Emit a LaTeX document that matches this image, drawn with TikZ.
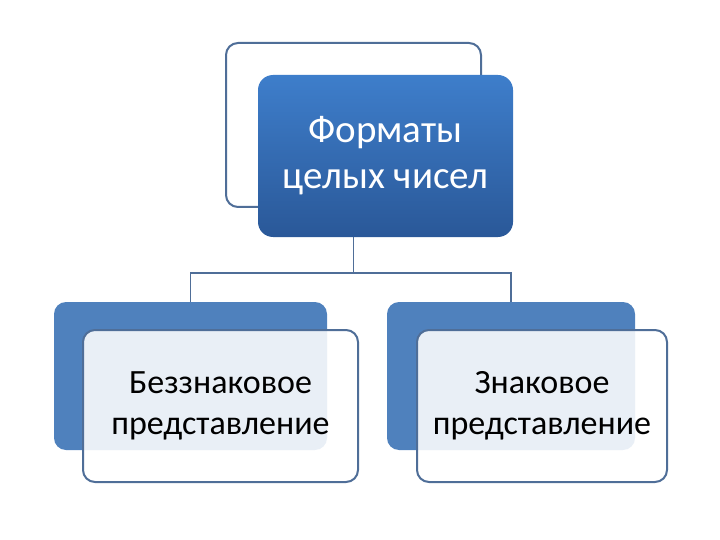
\documentclass[tikz,border=0pt]{standalone}
\usepackage{fontspec}
\setmainfont{Carlito}
\usepackage{xcolor}
\usepackage{tikz}
\usetikzlibrary{calc}

\definecolor{frameblue}{HTML}{4F6E98}
\definecolor{boxblue}{HTML}{4F81BD}
\definecolor{topblue}{HTML}{3E7ECB}
\definecolor{lowblue}{HTML}{2A5898}

\begin{document}
\begin{tikzpicture}[x=1pt, y=-1pt,
  box/.style={rounded corners=12pt, inner sep=0pt, outer sep=0pt, align=center},
  backw/.style={box, draw=frameblue, line width=2pt, fill=white},
  backb/.style={box, fill=boxblue},
  head/.style={box, rounded corners=15pt, top color=topblue, bottom color=lowblue,
               text=white, font=\fontsize{39}{46}\selectfont},
  leaf/.style={box, draw=frameblue, line width=2pt, fill=white, fill opacity=0.88,
               text opacity=1, font=\fontsize{34}{41}\selectfont},
  link/.style={draw=frameblue, line width=1.6pt}
]
\useasboundingbox (0,0) rectangle (720,540);

% --- back boxes ---------------------------------------------------------
\node[backw, minimum width=255, minimum height=164] (tback) at (353.5,125) {};
\node[backb, minimum width=273, minimum height=148] (lback) at (190.5,376) {};
\node[backb, minimum width=248, minimum height=148] (rback) at (511,376) {};

% --- connectors ---------------------------------------------------------
\coordinate (split) at (353.5,273);
\draw[link] (tback.south) -- (split);
\draw[link] (split) -| (lback.north);
\draw[link] (split) -| (rback.north);

% --- front boxes --------------------------------------------------------
\node[head, minimum width=255, minimum height=162] (fmt) at (385.5,156)
  {Форматы\\целых чисел};
\node[leaf, minimum width=275, minimum height=152] (unsig) at (220.5,406)
  {Беззнаковое\\представление};
\node[leaf, minimum width=250, minimum height=152] (sig) at (542,406)
  {Знаковое\\представление};
\end{tikzpicture}
\end{document}
